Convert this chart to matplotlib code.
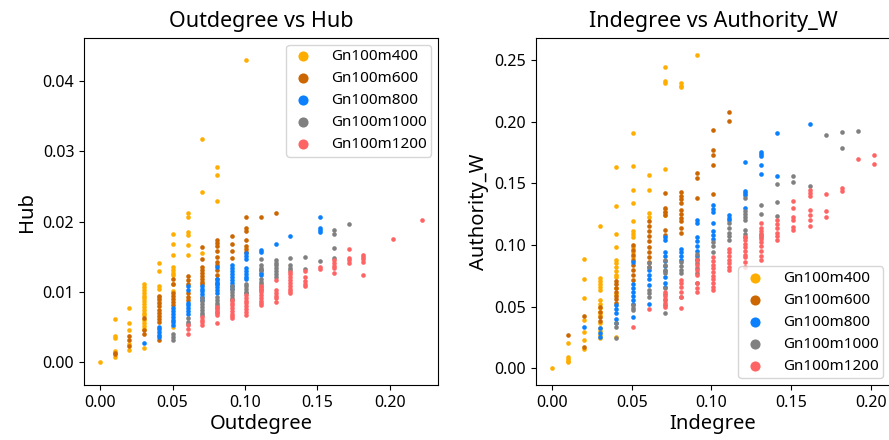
import matplotlib
matplotlib.use("Agg")
import matplotlib.pyplot as plt
from matplotlib.ticker import FormatStrFormatter

plt.rcParams['font.family'] = ['Noto Sans', 'DejaVu Sans']

series_names = ["Gn100m400", "Gn100m600", "Gn100m800", "Gn100m1000", "Gn100m1200"]
series_colors = ["#FFAE00", "#CC6600", "#0A80FF", "#808080", "#FF6464"]

# ---- Outdegree vs Hub : {outdegree: [hub values]} ----
hub_m400 = {
    0.0: [0.0000],
    0.0101: [0.0062, 0.0038, 0.0035, 0.0017, 0.0008],
    0.0202: [0.0077, 0.0056, 0.0046, 0.0026, 0.0018],
    0.0303: [0.0111, 0.0107, 0.0103, 0.0099, 0.0095, 0.0091, 0.0087, 0.0083, 0.0079,
             0.0075, 0.0071, 0.0067, 0.0061, 0.0056, 0.0052, 0.0048, 0.0020],
    0.0404: [0.0142, 0.0130, 0.0108, 0.0104, 0.0093, 0.0088],
    0.0505: [0.0182, 0.0169, 0.0153, 0.0135, 0.0131, 0.0127, 0.0124, 0.0112, 0.0102, 0.0050],
    0.0606: [0.0212, 0.0207, 0.0186, 0.0181, 0.0167, 0.0153],
    0.0707: [0.0317, 0.0242, 0.0155],
    0.0808: [0.0278, 0.0266, 0.0229],
    0.1010: [0.0430],
}
hub_m600 = {
    0.0101: [0.0014, 0.0012],
    0.0202: [0.0038, 0.0032, 0.0024],
    0.0303: [0.0063, 0.0046, 0.0040],
    0.0404: [0.0095, 0.0090, 0.0085, 0.0080, 0.0075, 0.0070, 0.0066, 0.0062, 0.0057, 0.0032],
    0.0505: [0.0119, 0.0112, 0.0098, 0.0094, 0.0090, 0.0086, 0.0082],
    0.0606: [0.0123, 0.0117, 0.0112, 0.0098, 0.0093, 0.0089],
    0.0707: [0.0164, 0.0147, 0.0135, 0.0131, 0.0127, 0.0123, 0.0119, 0.0115, 0.0112],
    0.0808: [0.0174, 0.0170, 0.0166, 0.0158, 0.0150, 0.0143, 0.0139, 0.0131, 0.0124, 0.0118, 0.0112],
    0.0909: [0.0180, 0.0169, 0.0158, 0.0148],
    0.1010: [0.0207, 0.0191, 0.0187, 0.0174, 0.0165, 0.0161, 0.0157],
    0.1111: [0.0206],
    0.1212: [0.0213],
}
hub_m800 = {
    0.0303: [0.0028],
    0.0404: [0.0051, 0.0047, 0.0043, 0.0039, 0.0036],
    0.0505: [0.0077, 0.0073, 0.0069, 0.0065, 0.0061, 0.0057, 0.0053],
    0.0606: [0.0108, 0.0103, 0.0085, 0.0081, 0.0077, 0.0073, 0.0069],
    0.0707: [0.0109, 0.0105, 0.0101, 0.0097, 0.0093, 0.0089],
    0.0808: [0.0136, 0.0119, 0.0115, 0.0111, 0.0107, 0.0103, 0.0099],
    0.0909: [0.0138, 0.0134, 0.0130, 0.0125, 0.0121, 0.0117, 0.0113, 0.0108, 0.0104],
    0.1010: [0.0155, 0.0151, 0.0147, 0.0134, 0.0130, 0.0126, 0.0122, 0.0119],
    0.1111: [0.0160, 0.0157, 0.0131, 0.0127, 0.0124],
    0.1212: [0.0168],
    0.1313: [0.0179],
    0.1515: [0.0206, 0.0191, 0.0188, 0.0186],
}
hub_m1000 = {
    0.0505: [0.0041, 0.0036, 0.0032],
    0.0606: [0.0063, 0.0058, 0.0055],
    0.0707: [0.0091, 0.0087, 0.0083, 0.0079, 0.0075, 0.0071, 0.0067],
    0.0808: [0.0093, 0.0089, 0.0085, 0.0081, 0.0077, 0.0072],
    0.0909: [0.0108, 0.0104, 0.0100, 0.0096, 0.0092, 0.0089],
    0.1010: [0.0112, 0.0108, 0.0104, 0.0100, 0.0098],
    0.1111: [0.0147, 0.0138, 0.0134, 0.0131, 0.0119, 0.0115, 0.0111, 0.0107, 0.0103],
    0.1212: [0.0146, 0.0142, 0.0138, 0.0134, 0.0130, 0.0126, 0.0122],
    0.1313: [0.0149, 0.0138, 0.0134, 0.0131],
    0.1414: [0.0150, 0.0133],
    0.1515: [0.0144],
    0.1616: [0.0188, 0.0182, 0.0163, 0.0149],
    0.1717: [0.0197],
}
hub_m1200 = {
    0.0606: [0.0053, 0.0047, 0.0041],
    0.0707: [0.0065, 0.0061, 0.0057, 0.0053],
    0.0808: [0.0079, 0.0075, 0.0071, 0.0067, 0.0056],
    0.0909: [0.0089, 0.0085, 0.0081, 0.0077, 0.0073, 0.0069, 0.0066, 0.0063],
    0.1010: [0.0096, 0.0092, 0.0088, 0.0084, 0.0080, 0.0076, 0.0072, 0.0067],
    0.1111: [0.0108, 0.0104, 0.0100, 0.0096, 0.0092, 0.0088, 0.0085, 0.0082],
    0.1212: [0.0117, 0.0103, 0.0099, 0.0095, 0.0091, 0.0086],
    0.1313: [0.0129, 0.0125, 0.0121, 0.0117, 0.0113, 0.0109, 0.0105, 0.0101, 0.0098],
    0.1414: [0.0130, 0.0122, 0.0116, 0.0112, 0.0108],
    0.1515: [0.0136, 0.0133],
    0.1616: [0.0146, 0.0141, 0.0137, 0.0134, 0.0127],
    0.1717: [0.0161, 0.0148, 0.0145, 0.0142],
    0.1818: [0.0153, 0.0150, 0.0147, 0.0143, 0.0124],
    0.2020: [0.0175],
    0.2222: [0.0203],
}

# ---- Indegree vs Authority_W : {indegree: [authority values]} ----
auth_m400 = {
    0.0: [0.000],
    0.0101: [0.0207, 0.0094, 0.0075, 0.0062, 0.0054],
    0.0202: [0.0883, 0.0726, 0.0572, 0.0390, 0.0297, 0.0230, 0.0154],
    0.0303: [0.1156, 0.0734, 0.0710, 0.0685, 0.0660, 0.0635, 0.0553, 0.0520, 0.0490,
             0.0460, 0.0432, 0.0365, 0.0330, 0.0300, 0.0270, 0.0243],
    0.0404: [0.1630, 0.1318, 0.1086, 0.0985, 0.0878, 0.0850, 0.0820, 0.0790, 0.0760,
             0.0742, 0.0650, 0.0600, 0.0256],
    0.0505: [0.1905, 0.1640, 0.1446, 0.1338, 0.1195, 0.1110, 0.1090, 0.1068, 0.0986, 0.0945, 0.0905],
    0.0606: [0.1570, 0.1445, 0.1256, 0.1229],
    0.0707: [0.2446, 0.2330, 0.2310, 0.1614, 0.1290, 0.1265, 0.1240],
    0.0808: [0.2310, 0.2290, 0.2280],
    0.0909: [0.2540],
}
auth_m600 = {
    0.0101: [0.0270],
    0.0202: [0.0424, 0.0175],
    0.0303: [0.0500, 0.0460, 0.0420, 0.0380],
    0.0404: [0.0707, 0.0680, 0.0650, 0.0620, 0.0590, 0.0560, 0.0527],
    0.0505: [0.1000, 0.0960, 0.0920, 0.0880, 0.0840, 0.0800, 0.0760, 0.0716],
    0.0606: [0.1190, 0.1150, 0.1110, 0.1070, 0.1030, 0.0985, 0.0940, 0.0900, 0.0860, 0.0824],
    0.0707: [0.1418, 0.1296, 0.1270, 0.1242, 0.1120, 0.1080],
    0.0808: [0.1426, 0.1400, 0.1370, 0.1337, 0.1280, 0.1250, 0.1220, 0.1190, 0.1140, 0.1100],
    0.0909: [0.1580, 0.1540, 0.1383],
    0.1010: [0.1930, 0.1770, 0.1730, 0.1648, 0.1412],
    0.1111: [0.2080, 0.2005],
}
auth_m800 = {
    0.0202: [0.0332],
    0.0303: [0.0324, 0.0290, 0.0256],
    0.0404: [0.0513, 0.0480, 0.0446, 0.0400, 0.0365],
    0.0505: [0.0864, 0.0680, 0.0650, 0.0620, 0.0590, 0.0553, 0.0520, 0.0418],
    0.0606: [0.0797, 0.0760, 0.0720, 0.0675, 0.0520],
    0.0707: [0.1066, 0.1040, 0.0945, 0.0910, 0.0870, 0.0830, 0.0790, 0.0742, 0.0690, 0.0660],
    0.0808: [0.0970, 0.0940, 0.0910, 0.0878],
    0.0909: [0.1200, 0.1175, 0.1066, 0.1030, 0.0990, 0.0950, 0.0910, 0.0878],
    0.1010: [0.1320, 0.1295, 0.1270, 0.1175, 0.1110, 0.1080, 0.1050],
    0.1111: [0.1240, 0.1220, 0.1200],
    0.1212: [0.1669, 0.1440, 0.1420, 0.1404, 0.1297],
    0.1313: [0.1750, 0.1735, 0.1720, 0.1645, 0.1575],
    0.1414: [0.1910, 0.1560],
    0.1616: [0.1982],
}
auth_m1000 = {
    0.0404: [0.0365, 0.0337, 0.0248],
    0.0505: [0.0513, 0.0490, 0.0472],
    0.0606: [0.0850, 0.0825, 0.0635, 0.0610, 0.0580],
    0.0707: [0.0878, 0.0840, 0.0800, 0.0770, 0.0650, 0.0600, 0.0550, 0.0510, 0.0446],
    0.0808: [0.0865, 0.0830, 0.0800, 0.0770, 0.0580],
    0.0909: [0.0930, 0.0890, 0.0850, 0.0810, 0.0770, 0.0690],
    0.1010: [0.1026, 0.0990, 0.0945],
    0.1111: [0.1175, 0.1140, 0.1100, 0.1070, 0.1040],
    0.1212: [0.1378, 0.1275, 0.1250, 0.1225, 0.1200, 0.1120, 0.1090, 0.1066],
    0.1313: [0.1320, 0.1248, 0.1090, 0.1066],
    0.1414: [0.1490, 0.1348, 0.1237],
    0.1515: [0.1558, 0.1510],
    0.1616: [0.1477],
    0.1717: [0.1890],
    0.1818: [0.1917, 0.1788],
    0.1919: [0.1925],
}
auth_m1200 = {
    0.0505: [0.0337],
    0.0606: [0.0480],
    0.0707: [0.0620, 0.0590, 0.0560, 0.0530, 0.0500],
    0.0808: [0.0716, 0.0690, 0.0660, 0.0620, 0.0580, 0.0490],
    0.0909: [0.0878, 0.0840, 0.0800, 0.0760, 0.0690, 0.0650, 0.0620],
    0.1010: [0.0904, 0.0870, 0.0840, 0.0810, 0.0780, 0.0750, 0.0720, 0.0690, 0.0660, 0.0635],
    0.1111: [0.0970, 0.0940, 0.0910, 0.0880, 0.0850, 0.0820, 0.0797],
    0.1212: [0.1068, 0.1040, 0.1010, 0.0980, 0.0950, 0.0920, 0.0904, 0.0860, 0.0824],
    0.1313: [0.1175, 0.1140, 0.1110, 0.1080, 0.1050, 0.1020, 0.0990, 0.0950, 0.0910, 0.0878],
    0.1414: [0.1200, 0.1170, 0.1140, 0.1100, 0.1070, 0.1040],
    0.1515: [0.1358, 0.1300, 0.1230, 0.1200, 0.1148, 0.1120],
    0.1616: [0.1445, 0.1420, 0.1396, 0.1283, 0.1242, 0.1200, 0.1153],
    0.1717: [0.1412, 0.1275, 0.1224],
    0.1818: [0.1459, 0.1440],
    0.1919: [0.1699],
    0.2020: [0.1730, 0.1653],
}

hub_series = [hub_m400, hub_m600, hub_m800, hub_m1000, hub_m1200]
auth_series = [auth_m400, auth_m600, auth_m800, auth_m1000, auth_m1200]


def flatten(d):
    xs, ys = [], []
    for x, vals in d.items():
        for v in vals:
            xs.append(x)
            ys.append(v)
    return xs, ys


fig = plt.figure(figsize=(8.89, 4.40), dpi=100)
ax1 = fig.add_axes([84 / 889, 1 - 385 / 440, (438 - 84) / 889, (385 - 38) / 440])
ax2 = fig.add_axes([536 / 889, 1 - 385 / 440, (890 - 536) / 889, (385 - 38) / 440])

for d, name, c in zip(hub_series, series_names, series_colors):
    xs, ys = flatten(d)
    ax1.scatter(xs, ys, s=11, color=c, label=name, linewidths=0)
for d, name, c in zip(auth_series, series_names, series_colors):
    xs, ys = flatten(d)
    ax2.scatter(xs, ys, s=11, color=c, label=name, linewidths=0)

ax1.set_xlim(-0.0111, 0.2333)
ax1.set_ylim(-0.0032, 0.0461)
ax2.set_xlim(-0.0101, 0.2121)
ax2.set_ylim(-0.0135, 0.2677)

ax1.set_xticks([0.0, 0.05, 0.10, 0.15, 0.20])
ax1.set_yticks([0.0, 0.01, 0.02, 0.03, 0.04])
ax2.set_xticks([0.0, 0.05, 0.10, 0.15, 0.20])
ax2.set_yticks([0.0, 0.05, 0.10, 0.15, 0.20, 0.25])
for ax in (ax1, ax2):
    ax.xaxis.set_major_formatter(FormatStrFormatter('%.2f'))
    ax.yaxis.set_major_formatter(FormatStrFormatter('%.2f'))
    ax.tick_params(labelsize=11.5)

ax1.set_title("Outdegree vs Hub", fontsize=15.5, pad=8)
ax1.set_xlabel("Outdegree", fontsize=14.5, labelpad=2)
ax1.set_ylabel("Hub", fontsize=14.5)
ax2.set_title("Indegree vs Authority_W", fontsize=15.5, pad=8)
ax2.set_xlabel("Indegree", fontsize=14.5, labelpad=2)
ax2.set_ylabel("Authority_W", fontsize=14.5)

leg_kw = dict(fontsize=11, markerscale=2.2, handlelength=1.6, handletextpad=1.0,
              borderpad=0.3, labelspacing=0.45, borderaxespad=0.45)
ax1.legend(loc="upper right", **leg_kw)
ax2.legend(loc="lower right", **leg_kw)

fig.savefig("out.png", dpi=100)
